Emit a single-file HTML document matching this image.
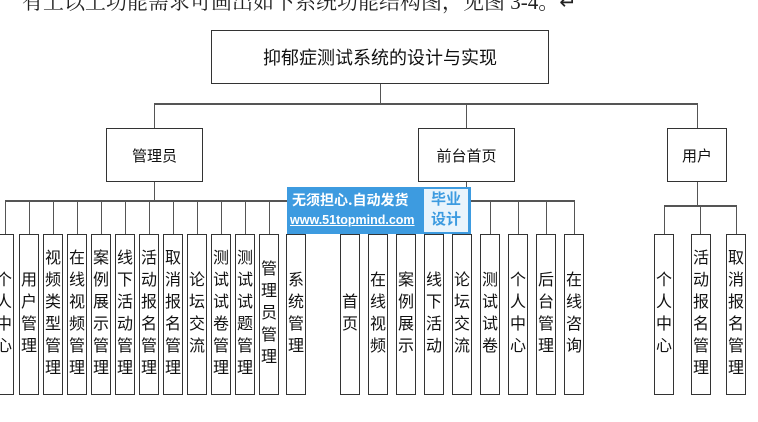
<!DOCTYPE html>
<html><head><meta charset="utf-8"><style>
body{margin:0;width:758px;height:422px;background:#fff;position:relative;overflow:hidden;font-family:"Liberation Sans","Noto Sans CJK SC",sans-serif}
.b{position:absolute;border:1.5px solid #333;box-sizing:border-box;background:#fff;display:flex;align-items:center;justify-content:center;color:#111}
.l{position:absolute;background:#555}
.v{writing-mode:vertical-rl;text-orientation:upright;font-size:16px;letter-spacing:6px;font-family:"Noto Sans CJK SC",sans-serif;line-height:1}
.lf{top:234px;height:161px;width:20px}
</style></head><body>
<div style="position:absolute;left:22px;top:-14px;font-size:21px;font-family:'Liberation Serif','Noto Serif CJK SC',serif;color:#222;white-space:nowrap">有上以上功能需求可画出如下系统功能结构图，见图 3-4。↵</div>

<div class="b" style="left:211px;top:30px;width:338px;height:54px;font-size:18px">抑郁症测试系统的设计与实现</div>
<div class="l" style="left:380px;top:84px;width:1px;height:20px"></div>
<div class="l" style="left:154px;top:103px;width:544px;height:1.5px"></div>
<div class="l" style="left:154px;top:104px;width:1px;height:24px"></div>
<div class="l" style="left:466px;top:104px;width:1px;height:24px"></div>
<div class="l" style="left:697px;top:104px;width:1px;height:24px"></div>

<div class="b" style="left:106px;top:128px;width:97px;height:54px;font-size:15px">管理员</div>
<div class="b" style="left:418px;top:128px;width:97px;height:54px;font-size:15px">前台首页</div>
<div class="b" style="left:667px;top:128px;width:60px;height:54px;font-size:15px">用户</div>

<div class="l" style="left:154px;top:182px;width:1px;height:19px"></div>
<div class="l" style="left:5px;top:200px;width:292px;height:1.5px"></div>
<div class="l" style="left:466px;top:182px;width:1px;height:19px"></div>
<div class="l" style="left:350px;top:200px;width:224px;height:1.5px"></div>
<div class="l" style="left:697px;top:182px;width:1px;height:24px"></div>
<div class="l" style="left:664px;top:205px;width:73px;height:1.5px"></div>

<!-- admin drops -->
<div class="l" style="left:5px;top:200px;width:1px;height:34px"></div>
<div class="l" style="left:29px;top:200px;width:1px;height:34px"></div>
<div class="l" style="left:53px;top:200px;width:1px;height:34px"></div>
<div class="l" style="left:77px;top:200px;width:1px;height:34px"></div>
<div class="l" style="left:101px;top:200px;width:1px;height:34px"></div>
<div class="l" style="left:125px;top:200px;width:1px;height:34px"></div>
<div class="l" style="left:149px;top:200px;width:1px;height:34px"></div>
<div class="l" style="left:173px;top:200px;width:1px;height:34px"></div>
<div class="l" style="left:197px;top:200px;width:1px;height:34px"></div>
<div class="l" style="left:221px;top:200px;width:1px;height:34px"></div>
<div class="l" style="left:245px;top:200px;width:1px;height:34px"></div>
<div class="l" style="left:269px;top:200px;width:1px;height:34px"></div>
<div class="l" style="left:296px;top:200px;width:1px;height:34px"></div>

<div class="b lf v" style="left:-6px">个人中心</div>
<div class="b lf v" style="left:19px">用户管理</div>
<div class="b lf v" style="left:43px">视频类型管理</div>
<div class="b lf v" style="left:67px">在线视频管理</div>
<div class="b lf v" style="left:91px">案例展示管理</div>
<div class="b lf v" style="left:115px">线下活动管理</div>
<div class="b lf v" style="left:139px">活动报名管理</div>
<div class="b lf v" style="left:163px">取消报名管理</div>
<div class="b lf v" style="left:187px">论坛交流</div>
<div class="b lf v" style="left:211px">测试试卷管理</div>
<div class="b lf v" style="left:235px">测试试题管理</div>
<div class="b lf v" style="left:259px">管理员管理</div>
<div class="b lf v" style="left:286px">系统管理</div>

<!-- front drops -->
<div class="l" style="left:350px;top:200px;width:1px;height:34px"></div>
<div class="l" style="left:378px;top:200px;width:1px;height:34px"></div>
<div class="l" style="left:406px;top:200px;width:1px;height:34px"></div>
<div class="l" style="left:434px;top:200px;width:1px;height:34px"></div>
<div class="l" style="left:462px;top:200px;width:1px;height:34px"></div>
<div class="l" style="left:490px;top:200px;width:1px;height:34px"></div>
<div class="l" style="left:518px;top:200px;width:1px;height:34px"></div>
<div class="l" style="left:546px;top:200px;width:1px;height:34px"></div>
<div class="l" style="left:574px;top:200px;width:1px;height:34px"></div>

<div class="b lf v" style="left:340px">首页</div>
<div class="b lf v" style="left:368px">在线视频</div>
<div class="b lf v" style="left:396px">案例展示</div>
<div class="b lf v" style="left:424px">线下活动</div>
<div class="b lf v" style="left:452px">论坛交流</div>
<div class="b lf v" style="left:480px">测试试卷</div>
<div class="b lf v" style="left:508px">个人中心</div>
<div class="b lf v" style="left:536px">后台管理</div>
<div class="b lf v" style="left:564px">在线咨询</div>

<!-- user drops -->
<div class="l" style="left:664px;top:205px;width:1px;height:29px"></div>
<div class="l" style="left:700px;top:205px;width:1px;height:29px"></div>
<div class="l" style="left:736px;top:205px;width:1px;height:29px"></div>
<div class="b lf v" style="left:654px">个人中心</div>
<div class="b lf v" style="left:691px">活动报名管理</div>
<div class="b lf v" style="left:726px">取消报名管理</div>

<!-- watermark -->
<div style="position:absolute;left:287px;top:187px;width:184px;height:47px;background:#3d9be0"></div>
<div style="position:absolute;left:292px;top:190px;color:#fff;font-size:14px;font-weight:bold;font-family:'Noto Sans CJK SC',sans-serif;white-space:nowrap">无须担心.自动发货</div>
<div style="position:absolute;left:290px;top:213px;color:#fff;font-size:12.5px;font-weight:bold;text-decoration:underline;white-space:nowrap">www.51topmind.com</div>
<div style="position:absolute;left:424px;top:189px;width:44px;height:43px;background:#e9f4fc;color:#3d9be0;font-size:15px;font-weight:bold;line-height:20px;text-align:center;font-family:'Noto Sans CJK SC',sans-serif">毕业<br>设计</div>
</body></html>
